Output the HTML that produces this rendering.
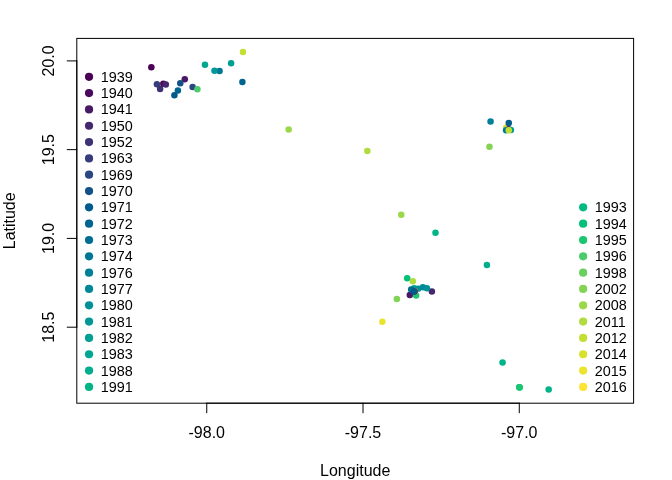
<!DOCTYPE html>
<html lang="en"><head><meta charset="utf-8"><title>Latitude vs Longitude</title>
<style>html,body{margin:0;padding:0;background:#fff}svg{display:block}text{font-family:"Liberation Sans",Arial,Helvetica,sans-serif;fill:#000}.a{font-size:16px}.l{font-size:14.4px}</style></head><body>
<svg width="672" height="480" viewBox="0 0 672 480">
<rect width="672" height="480" fill="#fff"/>
<g>
<circle cx="151.33" cy="67.25" r="3.25" fill="#4B0055"/>
<circle cx="156.90" cy="84.25" r="3.25" fill="#373D7B"/>
<circle cx="160.10" cy="88.90" r="3.25" fill="#3F3274"/>
<circle cx="163.30" cy="83.85" r="3.25" fill="#4A095D"/>
<circle cx="165.80" cy="84.40" r="3.25" fill="#44276D"/>
<circle cx="184.78" cy="79.35" r="3.25" fill="#481A65"/>
<circle cx="180.30" cy="83.30" r="3.25" fill="#145187"/>
<circle cx="177.90" cy="90.50" r="3.25" fill="#006490"/>
<circle cx="174.40" cy="95.30" r="3.25" fill="#005A8C"/>
<circle cx="192.60" cy="87.00" r="3.25" fill="#2A4781"/>
<circle cx="197.40" cy="89.35" r="3.25" fill="#4BCB69"/>
<circle cx="204.96" cy="64.71" r="3.25" fill="#00A691"/>
<circle cx="219.55" cy="70.96" r="3.25" fill="#007696"/>
<circle cx="214.49" cy="70.85" r="3.25" fill="#009796"/>
<circle cx="231.10" cy="63.35" r="3.25" fill="#009F94"/>
<circle cx="243.00" cy="52.00" r="3.25" fill="#C4DF33"/>
<circle cx="242.40" cy="82.10" r="3.25" fill="#006490"/>
<circle cx="288.67" cy="129.45" r="3.25" fill="#9AD849"/>
<circle cx="367.35" cy="151.00" r="3.25" fill="#B0DC3E"/>
<circle cx="401.25" cy="214.67" r="3.25" fill="#9AD849"/>
<circle cx="435.50" cy="232.83" r="3.25" fill="#00B487"/>
<circle cx="490.57" cy="121.45" r="3.25" fill="#007F97"/>
<circle cx="489.47" cy="146.86" r="3.25" fill="#83D454"/>
<circle cx="506.25" cy="127.50" r="3.25" fill="#D8E12C"/>
<circle cx="508.70" cy="129.20" r="3.25" fill="#481A65"/>
<circle cx="506.10" cy="130.20" r="3.25" fill="#007696"/>
<circle cx="510.90" cy="130.10" r="3.25" fill="#009F94"/>
<circle cx="508.75" cy="130.15" r="3.25" fill="#C4DF33"/>
<circle cx="508.75" cy="123.00" r="3.25" fill="#005A8C"/>
<circle cx="407.20" cy="278.25" r="3.25" fill="#00C07A"/>
<circle cx="412.83" cy="281.25" r="3.25" fill="#B0DC3E"/>
<circle cx="396.85" cy="299.10" r="3.25" fill="#83D454"/>
<circle cx="431.90" cy="291.50" r="3.25" fill="#44276D"/>
<circle cx="414.20" cy="288.20" r="3.25" fill="#009F94"/>
<circle cx="418.10" cy="288.80" r="3.25" fill="#009097"/>
<circle cx="422.90" cy="287.20" r="3.25" fill="#008798"/>
<circle cx="426.90" cy="288.30" r="3.25" fill="#009097"/>
<circle cx="409.80" cy="295.10" r="3.25" fill="#481A65"/>
<circle cx="416.15" cy="295.50" r="3.25" fill="#1BC672"/>
<circle cx="414.95" cy="291.40" r="3.25" fill="#EBE32C"/>
<circle cx="414.60" cy="291.45" r="3.25" fill="#481A65"/>
<circle cx="411.20" cy="289.40" r="3.25" fill="#006D93"/>
<circle cx="414.05" cy="291.50" r="3.25" fill="#005A8C"/>
<circle cx="382.37" cy="321.83" r="3.25" fill="#EBE32C"/>
<circle cx="486.92" cy="264.92" r="3.25" fill="#00AD8D"/>
<circle cx="502.57" cy="362.40" r="3.25" fill="#00B487"/>
<circle cx="519.40" cy="387.30" r="3.25" fill="#00B487"/>
<circle cx="519.40" cy="387.30" r="3.25" fill="#1BC672"/>
<circle cx="519.60" cy="387.50" r="3.25" fill="#1BC672"/>
<circle cx="548.67" cy="389.50" r="3.25" fill="#00B487"/>
</g>
<g stroke="#000" stroke-width="1" fill="none" stroke-linecap="round">
<path d="M206.75 403.20H519.27"/>
<path d="M206.75 403.20v9.6"/>
<path d="M363.00 403.20v9.6"/>
<path d="M519.27 403.20v9.6"/>
<path d="M76.80 60.90V327.20"/>
<path d="M76.80 60.90h-9.6"/>
<path d="M76.80 149.65h-9.6"/>
<path d="M76.80 238.40h-9.6"/>
<path d="M76.80 327.20h-9.6"/>
<rect x="76.80" y="38.40" width="556.80" height="364.80"/>
</g>
<g class="a" text-anchor="middle">
<text x="206.75" y="437.76">-98.0</text>
<text x="363.00" y="437.76">-97.5</text>
<text x="519.27" y="437.76">-97.0</text>
<text transform="translate(53.76 60.90) rotate(-90)">20.0</text>
<text transform="translate(53.76 149.65) rotate(-90)">19.5</text>
<text transform="translate(53.76 238.40) rotate(-90)">19.0</text>
<text transform="translate(53.76 327.20) rotate(-90)">18.5</text>
<text x="355.20" y="475.86">Longitude</text>
<text transform="translate(15.36 220.80) rotate(-90)">Latitude</text>
</g>
<g class="l">
<circle cx="89.04" cy="76.80" r="4.10" fill="#4B0055"/>
<text x="100.70" y="82">1939</text>
<circle cx="89.04" cy="93.12" r="4.10" fill="#4A095D"/>
<text x="100.70" y="98">1940</text>
<circle cx="89.04" cy="109.44" r="4.10" fill="#481A65"/>
<text x="100.70" y="114">1941</text>
<circle cx="89.04" cy="125.76" r="4.10" fill="#44276D"/>
<text x="100.70" y="131">1950</text>
<circle cx="89.04" cy="142.08" r="4.10" fill="#3F3274"/>
<text x="100.70" y="147">1952</text>
<circle cx="89.04" cy="158.40" r="4.10" fill="#373D7B"/>
<text x="100.70" y="163">1963</text>
<circle cx="89.04" cy="174.72" r="4.10" fill="#2A4781"/>
<text x="100.70" y="180">1969</text>
<circle cx="89.04" cy="191.04" r="4.10" fill="#145187"/>
<text x="100.70" y="196">1970</text>
<circle cx="89.04" cy="207.36" r="4.10" fill="#005A8C"/>
<text x="100.70" y="212">1971</text>
<circle cx="89.04" cy="223.68" r="4.10" fill="#006490"/>
<text x="100.70" y="229">1972</text>
<circle cx="89.04" cy="240.00" r="4.10" fill="#006D93"/>
<text x="100.70" y="245">1973</text>
<circle cx="89.04" cy="256.32" r="4.10" fill="#007696"/>
<text x="100.70" y="261">1974</text>
<circle cx="89.04" cy="272.64" r="4.10" fill="#007F97"/>
<text x="100.70" y="278">1976</text>
<circle cx="89.04" cy="288.96" r="4.10" fill="#008798"/>
<text x="100.70" y="294">1977</text>
<circle cx="89.04" cy="305.28" r="4.10" fill="#009097"/>
<text x="100.70" y="310">1980</text>
<circle cx="89.04" cy="321.60" r="4.10" fill="#009796"/>
<text x="100.70" y="327">1981</text>
<circle cx="89.04" cy="337.92" r="4.10" fill="#009F94"/>
<text x="100.70" y="343">1982</text>
<circle cx="89.04" cy="354.24" r="4.10" fill="#00A691"/>
<text x="100.70" y="359">1983</text>
<circle cx="89.04" cy="370.56" r="4.10" fill="#00AD8D"/>
<text x="100.70" y="376">1988</text>
<circle cx="89.04" cy="386.88" r="4.10" fill="#00B487"/>
<text x="100.70" y="392">1991</text>
</g>
<g class="l">
<circle cx="583.14" cy="207.36" r="4.10" fill="#00BA81"/>
<text x="594.70" y="212">1993</text>
<circle cx="583.14" cy="223.68" r="4.10" fill="#00C07A"/>
<text x="594.70" y="229">1994</text>
<circle cx="583.14" cy="240.00" r="4.10" fill="#1BC672"/>
<text x="594.70" y="245">1995</text>
<circle cx="583.14" cy="256.32" r="4.10" fill="#4BCB69"/>
<text x="594.70" y="261">1996</text>
<circle cx="583.14" cy="272.64" r="4.10" fill="#69D05F"/>
<text x="594.70" y="278">1998</text>
<circle cx="583.14" cy="288.96" r="4.10" fill="#83D454"/>
<text x="594.70" y="294">2002</text>
<circle cx="583.14" cy="305.28" r="4.10" fill="#9AD849"/>
<text x="594.70" y="310">2008</text>
<circle cx="583.14" cy="321.60" r="4.10" fill="#B0DC3E"/>
<text x="594.70" y="327">2011</text>
<circle cx="583.14" cy="337.92" r="4.10" fill="#C4DF33"/>
<text x="594.70" y="343">2012</text>
<circle cx="583.14" cy="354.24" r="4.10" fill="#D8E12C"/>
<text x="594.70" y="359">2014</text>
<circle cx="583.14" cy="370.56" r="4.10" fill="#EBE32C"/>
<text x="594.70" y="376">2015</text>
<circle cx="583.14" cy="386.88" r="4.10" fill="#FDE333"/>
<text x="594.70" y="392">2016</text>
</g>
</svg></body></html>
